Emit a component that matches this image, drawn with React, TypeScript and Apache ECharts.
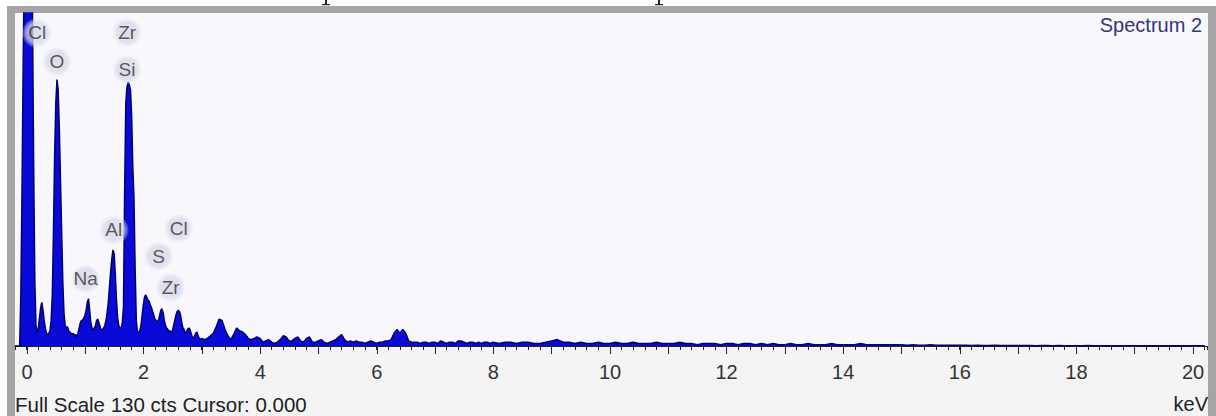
import React, { useEffect, useRef } from "react";
import * as echarts from "echarts";

// Spectrum channels: three segments with their own channel width (keV)
const LOW_START = -0.2;
const LOW_STEP = 0.02;
const lowCounts = [
  0, 0, 0, 0, 0, 20, 60, 110, 150, 250,
  400, 450, 400, 300, 200, 130, 70, 25, 8, 5,
  7, 11, 15, 17, 14, 10, 7, 5, 4.5, 5,
  6, 10, 20, 45, 75, 95, 104, 100, 85, 65,
  45, 25, 13, 8, 7, 7.5, 6, 5.5, 5, 4.5,
  5, 4, 4.5, 3.5, 5, 7, 9, 10, 10, 11,
  12, 14, 17, 18.5, 14, 9, 7, 6, 7, 8,
  10, 10.5, 9, 7.5, 6, 6.5, 7, 8, 10, 13,
  17, 23, 29, 34, 37.5, 36, 28, 18, 11, 8,
  7, 7, 9, 15, 60, 95, 101, 103, 102, 100,
  90, 70, 58, 30, 10, 5, 5.5, 6, 8, 12,
  16, 19, 20, 19, 18, 17.5, 16, 15, 13.5, 12,
  10.5, 10, 9.5, 10, 12, 14, 14.5, 13, 10, 8,
  7, 6.5, 5.5, 6, 5, 6, 8, 10, 12, 13.5,
  14, 13.5, 12, 9, 7, 6.5, 5, 5.5, 6.5, 7,
  6.5, 5, 3.5, 3, 4, 5, 5.5, 4, 3, 2.5,
];

const MID_START = 3.0;
const MID_STEP = 0.05;
const midCounts = [
  3, 2.5, 3, 4, 5, 7.5, 10.5, 10, 6.5, 4,
  2.5, 4.5, 7, 6, 5.5, 4.5, 3, 2.5, 3, 3.5,
  3, 1.5, 2, 2.5, 1.5, 1, 1.5, 2.5, 4, 3.5,
  2, 2, 3, 3.5, 2, 1.5, 3, 3.5, 1.5, 1.5,
  2, 2.5, 1.5, 1, 1.5, 2, 2.5, 3.5, 4.5, 2.5,
  1.5, 2, 1.5, 2, 1.5, 1.5, 1, 1.5, 2, 1.5,
  1, 1.5, 1.5, 2, 2, 2.5, 5, 6.5, 5, 6.5,
  5, 2, 1.5, 1.5, 1.5, 1, 1.5, 1.5, 1, 1.5,
  1.5, 1, 2, 1.5, 1, 1.5, 1.5, 1, 2, 2,
  1.5, 1, 1.5, 1.5, 1, 1.5, 1, 1.5, 1.5, 1,
];

const HIGH_START = 8.0;
const HIGH_STEP = 0.1;
const highCounts = [
  1.5, 1, 1.5, 1.5, 1, 1.5, 1.5, 1, 1, 1.5,
  2, 2.5, 1.5, 1.5, 1, 1.5, 1, 1, 1.5, 1,
  1, 1.5, 1, 1, 1.5, 1, 1, 1, 1.5, 1,
  1, 1, 1.5, 1, 1, 0.5, 1, 1, 1, 0.5,
  1, 1, 0.5, 1, 1, 0.5, 1, 0.5, 1, 0.5,
  0.5, 1, 0.5, 0.5, 1, 0.5, 0.5, 0.5, 1, 0.5,
  0.5, 0.5, 0.5, 1, 0.5, 0.5, 0.5, 0.5, 0.5, 0.5,
  0.5, 0.3, 0.5, 0.3, 0.3, 0.5, 0.3, 0.3, 0.3, 0.3,
  0.3, 0.3, 0.2, 0.3, 0.2, 0.2, 0.3, 0.2, 0.2, 0.2,
  0.2, 0.2, 0.2, 0.1, 0.2, 0.2, 0.1, 0.2, 0.1, 0.1,
  0.1, 0.1, 0.2, 0.1, 0.1, 0.1, 0.1, 0.1, 0.1, 0.1,
  0.1, 0.1, 0.1, 0.1, 0.1, 0.1, 0.1, 0.1, 0.1, 0.1,
  0.1, 0.1, 0.1,
];

// Element labels (position in keV / counts)
const peakLabels = ["Cl", "O", "Zr", "Si", "Al", "Cl", "S", "Na", "Zr"];
const peakLabelEnergy = [0.18, 0.52, 1.724, 1.72, 1.492, 2.607, 2.264, 1.012, 2.47];
const peakLabelCounts = [122.2, 111.1, 122.4, 107.9, 45.3, 45.9, 35.1, 26.2, 22.8];

const tickLabels = ["0", "2", "4", "6", "8", "10", "12", "14", "16", "18", "20"];

const FULL_SCALE = 130;
const X_MIN = -0.2;
const X_MAX = 20.24;

const FONT = '"Liberation Sans", Arial, sans-serif';

function buildSpectrum(): [number, number][] {
  const out: [number, number][] = [];
  lowCounts.forEach((c, i) => out.push([+(LOW_START + i * LOW_STEP).toFixed(3), c]));
  midCounts.forEach((c, i) => out.push([+(MID_START + i * MID_STEP).toFixed(3), c]));
  highCounts.forEach((c, i) => out.push([+(HIGH_START + i * HIGH_STEP).toFixed(3), c]));
  return out;
}

export default function App() {
  const ref = useRef<HTMLDivElement>(null);

  useEffect(() => {
    if (!ref.current) return;
    const chart = echarts.init(ref.current, undefined, { renderer: "svg" });
    const spectrum = buildSpectrum();

    const halo = new echarts.graphic.RadialGradient(0.5, 0.5, 0.5, [
      { offset: 0, color: "rgba(214,214,230,1)" },
      { offset: 0.7, color: "rgba(218,218,234,0.92)" },
      { offset: 1, color: "rgba(232,232,244,0.15)" },
    ]);

    chart.setOption({
      animation: false,
      grid: [
        { left: 15, right: 9, top: 13, bottom: 70 },
        { left: 27, right: 23, top: 13, bottom: 70 },
      ],
      xAxis: [
        {
          type: "value",
          gridIndex: 0,
          min: X_MIN,
          max: X_MAX,
          interval: 0.2,
          axisLine: { show: true, onZero: false, lineStyle: { color: "#222", width: 1.2 } },
          axisTick: { show: true, length: 4, lineStyle: { color: "#222", width: 1 } },
          axisLabel: { show: false },
          splitLine: { show: false },
        },
        {
          type: "value",
          gridIndex: 1,
          min: 0,
          max: 20,
          interval: 1,
          axisLine: { show: false, onZero: false },
          axisTick: { show: true, length: 8, lineStyle: { color: "#222", width: 1 } },
          axisLabel: {
            show: true,
            margin: 16,
            fontSize: 20,
            color: "#333",
            fontFamily: FONT,
            formatter: (v: number) => {
              const r = Math.round(v);
              return r % 2 === 0 ? tickLabels[r / 2] ?? "" : "";
            },
          },
          splitLine: { show: false },
        },
      ],
      yAxis: [
        { type: "value", gridIndex: 0, min: 0, max: FULL_SCALE, show: false, splitLine: { show: false } },
        { type: "value", gridIndex: 1, min: 0, max: FULL_SCALE, show: false, splitLine: { show: false } },
      ],
      series: [
        {
          type: "line",
          xAxisIndex: 0,
          yAxisIndex: 0,
          data: spectrum,
          showSymbol: false,
          symbol: "none",
          clip: true,
          lineStyle: { color: "#00006e", width: 1.5 },
          areaStyle: { color: "#0a0ad8", opacity: 1 },
          z: 2,
        },
        {
          type: "scatter",
          xAxisIndex: 0,
          yAxisIndex: 0,
          clip: false,
          symbol: "circle",
          symbolSize: 30,
          itemStyle: { color: halo },
          label: {
            show: true,
            position: "inside",
            formatter: (p: any) => p.name,
            fontSize: 19,
            color: "#333",
            fontFamily: FONT,
          },
          data: peakLabels.map((n, i) => ({
            name: n,
            value: [peakLabelEnergy[i], peakLabelCounts[i]],
          })),
          z: 3,
        },
      ],
      graphic: [
        { type: "rect", z: -10, silent: true, shape: { x: 7, y: 6, width: 1209, height: 410 }, style: { fill: "#a5a5a5" } },
        { type: "rect", z: -9, silent: true, shape: { x: 15, y: 13, width: 1193, height: 333 }, style: { fill: "#f7f7fc" } },
        { type: "rect", z: -9, silent: true, shape: { x: 15, y: 346, width: 1193, height: 70 }, style: { fill: "#f4f4f4" } },
        { type: "rect", z: -8, silent: true, shape: { x: 325, y: 0, width: 2, height: 5 }, style: { fill: "#222" } },
        { type: "rect", z: -8, silent: true, shape: { x: 322, y: 4, width: 8, height: 1.2 }, style: { fill: "#222" } },
        { type: "rect", z: -8, silent: true, shape: { x: 658, y: 0, width: 2, height: 5 }, style: { fill: "#222" } },
        { type: "rect", z: -8, silent: true, shape: { x: 655, y: 4, width: 8, height: 1.2 }, style: { fill: "#222" } },
        {
          type: "text",
          z: 10,
          x: 1202,
          y: 25,
          style: { text: "Spectrum 2", fill: "#34347f", font: `20px ${FONT}`, align: "right", verticalAlign: "middle" },
        },
        {
          type: "text",
          z: 10,
          x: 15,
          y: 404,
          style: { text: "Full Scale 130 cts Cursor: 0.000", fill: "#222", font: `20.5px ${FONT}`, align: "left", verticalAlign: "middle" },
        },
        {
          type: "text",
          z: 10,
          x: 1208,
          y: 404,
          style: { text: "keV", fill: "#222", font: `20px ${FONT}`, align: "right", verticalAlign: "middle" },
        },
      ],
    });

    return () => chart.dispose();
  }, []);

  return (
    <div
      ref={ref}
      style={{ position: "absolute", left: 0, top: 0, width: 1216, height: 416 }}
    />
  );
}
